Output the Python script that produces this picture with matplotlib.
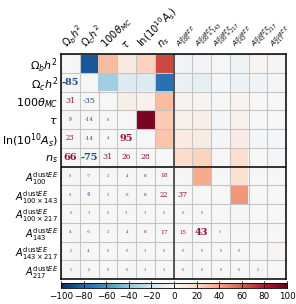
import numpy as np
import matplotlib
matplotlib.use('Agg')
import matplotlib.pyplot as plt
from matplotlib.colors import Normalize

params = [r'$\Omega_b h^2$', r'$\Omega_c h^2$', r'$100\theta_{MC}$', r'$\tau$',
          r'$\ln(10^{10}A_s)$', r'$n_s$',
          r'$A^{\mathrm{dust}EE}_{100}$', r'$A^{\mathrm{dust}EE}_{100\times143}$',
          r'$A^{\mathrm{dust}EE}_{100\times217}$', r'$A^{\mathrm{dust}EE}_{143}$',
          r'$A^{\mathrm{dust}EE}_{143\times217}$', r'$A^{\mathrm{dust}EE}_{217}$']

# lower triangle of the correlation matrix (x100), row by row
row_omch2 = [-85]
row_theta = [31, -35]
row_tau = [9, -14, 6]
row_logA = [23, -14, 4, 95]
row_ns = [66, -75, 31, 26, 28]
row_a100 = [-3, -7, 3, 4, 8, 18]
row_a100x143 = [-3, -9, 3, 6, 8, 22, 37]
row_a100x217 = [0, -1, 0, -1, -1, 0, 0, 0]
row_a143 = [-4, -6, 3, 4, 8, 17, 15, 43, -1]
row_a143x217 = [2, -4, 0, 0, -1, 0, 0, 0, 0, 0]
row_a217 = [1, -2, 0, 0, -1, -1, 0, 0, 0, 0, 2]

rows = [[], row_omch2, row_theta, row_tau, row_logA, row_ns, row_a100,
        row_a100x143, row_a100x217, row_a143, row_a143x217, row_a217]

n = len(params)
corr = np.zeros((n, n))
for i, r in enumerate(rows):
    for j, v in enumerate(r):
        corr[i, j] = v
        corr[j, i] = v

upper = np.where(np.triu(np.ones((n, n)), k=1) > 0, corr, 0)

fig = plt.figure(figsize=(2.96, 3.04), dpi=100)
ax = fig.add_axes([61/296, 1-279/304, 225/296, 225/304])
cmap = plt.get_cmap('RdBu_r')
norm = Normalize(-100, 100)
im = ax.imshow(upper, cmap=cmap, norm=norm, aspect='auto', interpolation='nearest')

for i, r in enumerate(rows):
    for j, v in enumerate(r):
        a = abs(v)
        if a >= 40:
            fs, fw = 7.0, 'bold'
        else:
            fs, fw = min(5.8, 2.2 + 12*a/100), 'normal'
        col = '#8e1538' if v >= 0 else '#1f4e8c'
        ax.text(j, i, f'{v}', ha='center', va='center', fontsize=fs,
                fontweight=fw, color=col, family='DejaVu Serif')

ax.set_xticks(np.arange(n), minor=False)
ax.set_yticks(np.arange(n), minor=False)
ax.set_xticks(np.arange(-0.5, n, 1), minor=True)
ax.set_yticks(np.arange(-0.5, n, 1), minor=True)
ax.grid(which='minor', color='#c4c4c4', lw=0.8)
ax.tick_params(which='both', length=0, pad=2)
ax.xaxis.tick_top()
ax.set_xticklabels(params, rotation=45, ha='left', rotation_mode='anchor')
ax.set_yticklabels(params)
for k, lab in enumerate(ax.get_xticklabels()):
    lab.set_fontsize(7.2 if k < 6 else 5.2)
for k, lab in enumerate(ax.get_yticklabels()):
    lab.set_fontsize(8 if k < 6 else 7)

ax.axvline(5.5, color='#555555', lw=1.4)
ax.axhline(5.5, color='#333333', lw=1.4)
for s in ax.spines.values():
    s.set_color('black')
    s.set_linewidth(1.1)

cax = fig.add_axes([61/296, 1-288/304, 226/296, 5/304])
cb = fig.colorbar(im, cax=cax, orientation='horizontal', ticks=np.arange(-100, 101, 20))
cb.ax.tick_params(labelsize=6.3, direction='in', length=5, width=0.6, color='black', pad=3)
cb.outline.set_linewidth(0.6)

fig.savefig('out.png', dpi=100)
